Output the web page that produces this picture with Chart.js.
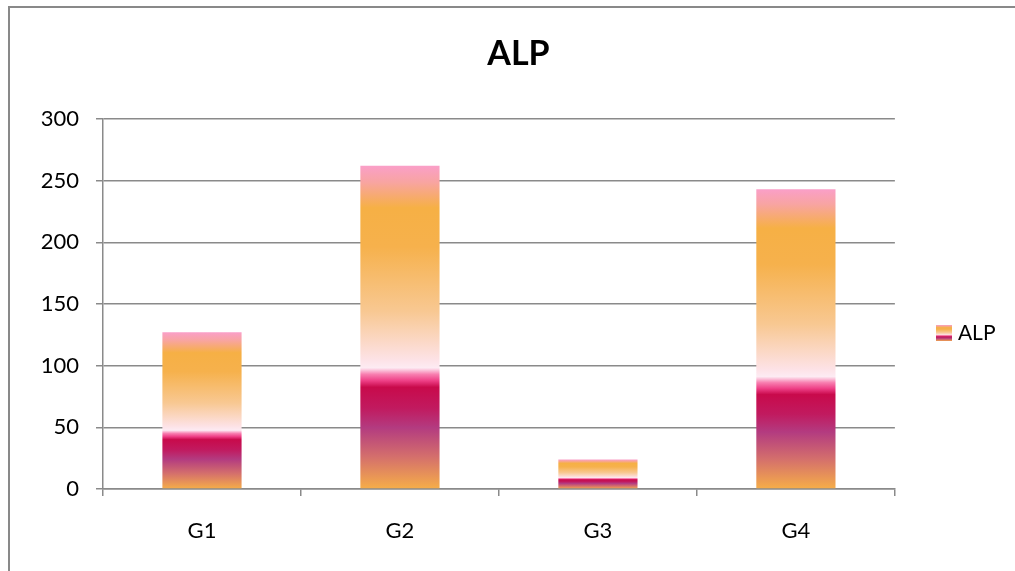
<!DOCTYPE html>
<html>
<head>
<meta charset="utf-8">
<title>ALP</title>
<script src="https://cdn.jsdelivr.net/npm/chart.js@4"></script>
<style>
  html, body { margin: 0; padding: 0; background: #fff; overflow: hidden; }
  #frame {
    position: absolute; left: 8px; top: 6px; width: 1100px; height: 700px;
    border-top: 2px solid #898989; border-left: 2px solid #898989;
  }
  #wrap { position: absolute; left: 0; top: 0; width: 1015px; height: 571px; }
</style>
</head>
<body>
<div id="frame"></div>
<div id="wrap"><canvas id="chart"></canvas></div>
<script>
// data
const groups = ['G1', 'G2', 'G3', 'G4'];
const alpValues = [127, 262, 24, 243];
const yMax = 300;
const yStep = 50;

const FONT = 'Lato, "Open Sans", sans-serif';
const GRID = '#8a8a8a';

// "fire" style fill, top of bar -> baseline
const fireStops = [
  [0.00, '#fa9fc8'],
  [0.05, '#f8a4a2'],
  [0.13, '#f6b045'],
  [0.25, '#f6b14c'],
  [0.45, '#f8c892'],
  [0.60, '#fde2e6'],
  [0.625, '#fdebf3'],
  [0.645, '#f87fb0'],
  [0.665, '#ee3f86'],
  [0.685, '#c80a4b'],
  [0.75, '#c11a5f'],
  [0.81, '#b33b80'],
  [0.90, '#d46f6c'],
  [1.00, '#f6ae48'],
];

function fireGradient(ctx, top, bottom) {
  const g = ctx.createLinearGradient(0, top, 0, bottom);
  fireStops.forEach(([o, c]) => g.addColorStop(o, c));
  return g;
}

// small swatch used as the legend marker
const swatch = document.createElement('canvas');
swatch.width = 16;
swatch.height = 16;
const sctx = swatch.getContext('2d');
sctx.fillStyle = fireGradient(sctx, 0, 16);
sctx.fillRect(0, 0, 16, 16);

const ctx = document.getElementById('chart');

let data = {
  labels: groups,
  datasets: [
    {
      label: 'ALP',
      data: alpValues,
      backgroundColor: (c) => {
        const chart = c.chart;
        if (c.type !== 'data' || !chart.chartArea) return '#f6b045';
        const y = chart.scales.y;
        return fireGradient(chart.ctx, y.getPixelForValue(c.raw), y.getPixelForValue(0));
      },
      borderWidth: 0,
      barPercentage: 0.4,
      categoryPercentage: 1.0,
    },
  ],
};

let options = {
  responsive: true,
  maintainAspectRatio: false,
  animation: false,
  layout: { padding: { left: 31.5, top: 0, right: 9.5, bottom: 0 } },
  scales: {
    x: {
      grid: { drawOnChartArea: false, drawTicks: true, tickLength: 7, color: GRID, lineWidth: 1.5 },
      border: { color: GRID, width: 1.5 },
      ticks: { color: '#000', font: { family: FONT, size: 22 }, padding: 22 },
      afterFit: (s) => { s.height = 82; },
    },
    y: {
      min: 0,
      max: yMax,
      ticks: { stepSize: yStep, color: '#000', font: { family: FONT, size: 22 }, padding: 17 },
      grid: { color: GRID, lineWidth: 1.5, tickLength: 7 },
      border: { color: GRID, width: 1.5 },
      afterFit: (s) => { s.width = 71.5; },
    },
  },
  plugins: {
    title: {
      display: true,
      text: 'ALP',
      color: '#000',
      font: { family: FONT, size: 34, weight: 'bold' },
      padding: { top: 34, bottom: 44.2 },
    },
    legend: {
      position: 'right',
      fullSize: false,
      // empty title only pushes the entry down to the frame's middle
      title: { display: true, text: '', padding: { top: 44, bottom: 0 } },
      labels: {
        color: '#000',
        font: { family: FONT, size: 21 },
        usePointStyle: true,
        pointStyle: swatch,
        pointStyleWidth: 6,
        padding: 46.5,
      },
    },
    tooltip: { enabled: false },
  },
};

let chart = new Chart(ctx, {
  type: 'bar',
  data: data,
  options: options,
});
</script>
</body>
</html>
